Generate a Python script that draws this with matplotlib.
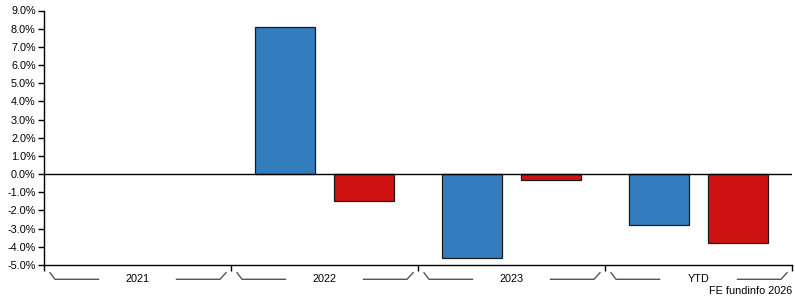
import matplotlib
matplotlib.use("Agg")
import matplotlib.pyplot as plt
import matplotlib.transforms as mtransforms
import numpy as np

categories = ["2021", "2022", "2023", "YTD"]
fund = [np.nan, 8.1, -4.6, -2.8]
sector = [np.nan, -1.5, -0.3, -3.8]
yticks = [9, 8, 7, 6, 5, 4, 3, 2, 1, 0, -1, -2, -3, -4, -5]

plt.rcParams['font.family'] = ['Liberation Sans', 'DejaVu Sans']

W, H = 795, 300
fig = plt.figure(figsize=(W / 100, H / 100), dpi=100)
x0, x1 = 44, 792
ytop, ybot = 10.5, 265
ax = fig.add_axes([x0 / W, 1 - ybot / H, (x1 - x0) / W, (ybot - ytop) / H])

n = len(categories)
x = np.arange(n)
bw = 0.32
off = 0.213
ax.bar(x - off, fund, bw, color='#337dbe', edgecolor='#1a1a1a', linewidth=0.9, zorder=2)
ax.bar(x + off, sector, bw, color='#cf1111', edgecolor='#1a1a1a', linewidth=0.9, zorder=2)
ax.axhline(0, color='black', linewidth=1, zorder=3)

ax.set_xlim(-0.5, n - 0.5)
ax.set_ylim(-5, 9)
ax.set_yticks(yticks)
ax.set_yticklabels([f"{v:.1f}%" for v in yticks], fontsize=7.8)
ax.set_xticks(np.arange(n + 1) - 0.5)
ax.set_xticklabels([])
ax.tick_params(axis='both', direction='out', length=4, width=1, color='black', pad=2)
ax.spines['top'].set_visible(False)
ax.spines['right'].set_visible(False)
for s in ('left', 'bottom'):
    ax.spines[s].set_color('black')
    ax.spines[s].set_linewidth(1)

# category labels with bracket lines
gw = (x1 - x0) / n  # pixels per group
trans = mtransforms.blended_transform_factory(ax.transData, fig.transFigure)
pxu = 1.0 / gw  # data units per pixel
ya = 1 - 272.7 / H
yb = 1 - 279.3 / H
for i, c in enumerate(categories):
    left = i - 0.5
    right = i + 0.5
    xs1 = [left + 6 * pxu, left + 11 * pxu, i - 39 * pxu]
    xs2 = [i + 39 * pxu, right - 11 * pxu, right - 5 * pxu]
    ax.plot(xs1, [ya, yb, yb], transform=trans, color='#555555', lw=1, clip_on=False)
    ax.plot(xs2, [yb, yb, ya], transform=trans, color='#555555', lw=1, clip_on=False)
    ax.text(i, yb, c, transform=trans, ha='center', va='center', fontsize=7.8)

fig.text(792 / W, 1 - 291 / H, "FE fundinfo 2026", ha='right', va='center', fontsize=7.8)

fig.savefig("out.png", dpi=100)
